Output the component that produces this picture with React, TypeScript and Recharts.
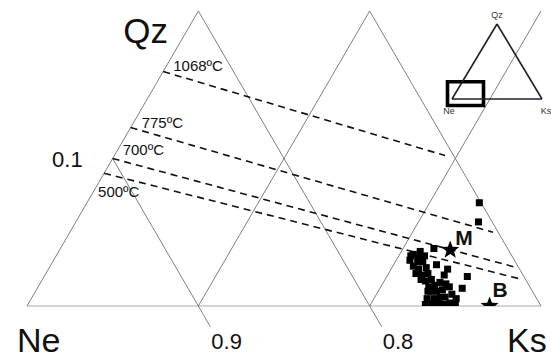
import {
  ReferenceArea,
  ReferenceDot,
  ReferenceLine,
  Scatter,
  ScatterChart,
  XAxis,
  YAxis,
} from "recharts";

// Sample compositions as Qz and Ks fractions (Ne = 1 - Qz - Ks)
const sampleQz = [
  0.035, 0.037, 0.034, 0.031, 0.03, 0.03, 0.027, 0.025, 0.026, 0.022, 0.021,
  0.022, 0.033, 0.034, 0.018, 0.017, 0.018, 0.013, 0.014, 0.016, 0.01, 0.01,
  0.011, 0.013, 0.01, 0.015, 0.005, 0.005, 0.006, 0.006, 0.008, 0.005, 0.001,
  0.001, 0.002, 0.001, 0.002, 0.002, 0.07, 0.057, 0.039, 0.028, 0.025, 0.021,
  0.02, 0.012,
];
const sampleKs = [
  0.208, 0.211, 0.215, 0.208, 0.213, 0.216, 0.212, 0.216, 0.22, 0.216, 0.22,
  0.223, 0.212, 0.207, 0.221, 0.224, 0.227, 0.228, 0.231, 0.233, 0.231, 0.234,
  0.237, 0.24, 0.229, 0.237, 0.231, 0.235, 0.238, 0.241, 0.244, 0.248, 0.232,
  0.236, 0.239, 0.243, 0.246, 0.249, 0.229, 0.235, 0.218, 0.225, 0.233, 0.233,
  0.247, 0.248,
];

// Reference compositions
const starNames = ["M", "B"];
const starQz = [0.038, 0.0];
const starKs = [0.228, 0.27];

// Isotherms, from the Ne-Qz join towards the Ne = 0.7 line
const isoLabels = ["1068ºC", "775ºC", "700ºC", "500ºC"];
const isoStartQz = [0.159, 0.121, 0.1, 0.09];
const isoEndQz = [0.102, 0.05, 0.026, 0.018];
const isoEndKs = [0.193, 0.247, 0.273, 0.28];

// Grid lines
const ksLines = [0, 0.1, 0.2];
const neLines = [0.9, 0.8, 0.7];
const neLineTop = [0.1, 0.2, 0.2];
const neLineBottom = [-0.014, -0.014, 0];
const neTickLabels = ["0.9", "0.8", ""];
const qzTickLabel = "0.1";

const FONT = "'Liberation Sans', Arial, Helvetica, sans-serif";

// ternary (Ks, Qz) -> plot coordinates
const tern = (ks: number, qz: number) => ({ x: ks + qz / 2, y: qz });
const neAt = (ne: number, qz: number) => tern(1 - ne - qz, qz);

const samples = sampleQz.map((qz, i) => tern(sampleKs[i], qz));
const stars = starQz.map((qz, i) => ({ ...tern(starKs[i], qz), name: starNames[i] }));

const Square = (p: any) => (
  <rect x={p.cx - 3.5} y={p.cy - 3.5} width={7} height={7} fill="#000" />
);

const starPoints = (cx: number, cy: number, R: number, r: number) =>
  Array.from({ length: 10 }, (_, k) => {
    const a = -Math.PI / 2 + (k * Math.PI) / 5;
    const rad = k % 2 === 0 ? R : r;
    return `${cx + rad * Math.cos(a)},${cy + rad * Math.sin(a)}`;
  }).join(" ");

const Star = (p: any) => (
  <polygon points={starPoints(p.cx, p.cy, 9.5, 4)} fill="#000" />
);

const textShape =
  (text: string, dx: number, dy: number, size: number, extra: any = {}) =>
  (p: any) => (
    <text
      x={p.cx + dx}
      y={p.cy + dy}
      fontSize={size}
      fontFamily={FONT}
      fill="#111"
      {...extra}
    >
      {text}
    </text>
  );

const isoLabelOffsets = [
  [10, 0],
  [11, 0],
  [10, -4],
  [-6, 24],
];
const starLabelOffsets = [
  [5, -5],
  [3, -9],
];

const GRID = "#707070";

const Inset = () => (
  <ScatterChart
    width={111}
    height={110}
    margin={{ top: 14, right: 9, bottom: 21, left: 12 }}
  >
    <XAxis type="number" dataKey="x" domain={[0, 1]} hide allowDataOverflow />
    <YAxis type="number" dataKey="y" domain={[0, 1]} hide allowDataOverflow />
    <Scatter data={[]} isAnimationActive={false} />
    <ReferenceLine segment={[tern(0, 0), tern(0, 1)]} stroke="#222" strokeWidth={1.6} ifOverflow="visible" />
    <ReferenceLine segment={[tern(0, 1), tern(1, 0)]} stroke="#222" strokeWidth={1.6} ifOverflow="visible" />
    <ReferenceLine segment={[tern(0, 0), tern(1, 0)]} stroke="#222" strokeWidth={1.6} ifOverflow="visible" />
    <ReferenceArea
      x1={-0.05}
      x2={0.35}
      y1={-0.086}
      y2={0.23}
      fill="none"
      fillOpacity={0}
      stroke="#000"
      strokeWidth={3.6}
      ifOverflow="visible"
    />
    <ReferenceDot {...tern(0, 1)} r={0} ifOverflow="visible" shape={textShape("Qz", 0, -6, 9, { textAnchor: "middle", fill: "#333" })} />
    <ReferenceDot {...tern(0, 0)} r={0} ifOverflow="visible" shape={textShape("Ne", -3, 15, 9, { textAnchor: "middle", fill: "#333" })} />
    <ReferenceDot {...tern(1, 0)} r={0} ifOverflow="visible" shape={textShape("Ks", 4, 15, 9, { textAnchor: "middle", fill: "#333" })} />
  </ScatterChart>
);

export default function App() {
  return (
    <div
      style={{
        position: "absolute",
        left: 0,
        top: 0,
        width: 551,
        height: 360,
        background: "#fff",
      }}
    >
      <ScatterChart
        width={551}
        height={360}
        margin={{ top: 11, right: 10, bottom: 54, left: 27 }}
      >
        <XAxis type="number" dataKey="x" domain={[0, 0.3]} hide allowDataOverflow />
        <YAxis type="number" dataKey="y" domain={[0, 0.2]} hide allowDataOverflow />

        {/* base line Qz = 0 */}
        <ReferenceLine
          segment={[tern(0, 0), tern(0.3, 0)]}
          stroke="#d4d4d4"
          strokeWidth={2}
          ifOverflow="visible"
        />
        {ksLines.map((ks) => (
          <ReferenceLine
            key={`ks${ks}`}
            segment={[tern(ks, 0), tern(ks, 0.2)]}
            stroke={GRID}
            strokeWidth={0.9}
            ifOverflow="visible"
          />
        ))}
        {neLines.map((ne, i) => (
          <ReferenceLine
            key={`ne${ne}`}
            segment={[neAt(ne, neLineTop[i]), neAt(ne, neLineBottom[i])]}
            stroke={GRID}
            strokeWidth={0.9}
            ifOverflow="visible"
          />
        ))}

        {isoLabels.map((t, i) => (
          <ReferenceLine
            key={t}
            segment={[tern(0, isoStartQz[i]), tern(isoEndKs[i], isoEndQz[i])]}
            stroke="#111"
            strokeWidth={1.6}
            strokeDasharray="7 5"
            ifOverflow="visible"
          />
        ))}
        {isoLabels.map((t, i) => (
          <ReferenceDot
            key={`l${t}`}
            {...tern(0, isoStartQz[i])}
            r={0}
            ifOverflow="visible"
            shape={textShape(t, isoLabelOffsets[i][0], isoLabelOffsets[i][1], 15)}
          />
        ))}

        {neLines.map((ne, i) =>
          neTickLabels[i] ? (
            <ReferenceDot
              key={`nt${ne}`}
              {...neAt(ne, neLineBottom[i])}
              r={0}
              ifOverflow="visible"
              shape={textShape(neTickLabels[i], 1, 22, 22)}
            />
          ) : null
        )}
        <ReferenceDot
          {...tern(0, 0.1)}
          r={0}
          ifOverflow="visible"
          shape={textShape(qzTickLabel, -30, 8, 22, { textAnchor: "end" })}
        />

        <ReferenceDot {...tern(0, 0.2)} r={0} ifOverflow="visible" shape={textShape("Qz", -75, 32, 35)} />
        <ReferenceDot {...tern(0, 0)} r={0} ifOverflow="visible" shape={textShape("Ne", -10, 46, 34)} />
        <ReferenceDot {...tern(0.3, 0)} r={0} ifOverflow="visible" shape={textShape("Ks", -34, 46, 34)} />

        <Scatter data={samples} shape={Square} isAnimationActive={false} />
        <Scatter data={stars} shape={Star} isAnimationActive={false} />
        {stars.map((s, i) => (
          <ReferenceDot
            key={s.name}
            x={s.x}
            y={s.y}
            r={0}
            ifOverflow="visible"
            shape={textShape(s.name, starLabelOffsets[i][0], starLabelOffsets[i][1], 21, {
              fontWeight: "bold",
            })}
          />
        ))}
      </ScatterChart>
      <div style={{ position: "absolute", left: 440, top: 10 }}>
        <Inset />
      </div>
    </div>
  );
}
